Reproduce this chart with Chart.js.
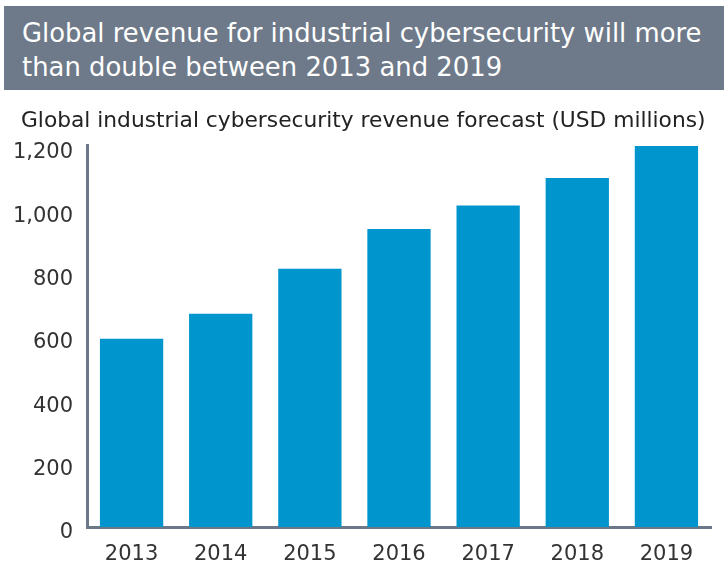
<!DOCTYPE html>
<html><head><meta charset="utf-8">
<script src="https://cdn.jsdelivr.net/npm/chart.js@4"></script>
<style>
html,body{margin:0;padding:0;background:#fff;}
#wrap{position:relative;width:728px;height:568px;overflow:hidden;}
#banner{position:absolute;left:4px;top:6px;width:720px;height:84px;background:#6e7a89;}
.t{position:absolute;left:22px;color:#fff;font-family:"DejaVu Sans",sans-serif;font-size:25px;white-space:nowrap;line-height:1;}
#sub{position:absolute;left:21px;top:109px;font-family:"DejaVu Sans",sans-serif;font-size:20px;color:#222;white-space:nowrap;line-height:1;}
canvas{position:absolute;left:0;top:0;}
</style></head><body>
<div id="wrap">
<canvas id="c" width="728" height="568"></canvas>
<div id="banner"></div>
<div class="t" id="t1" style="top:21px">Global revenue for industrial cybersecurity will more</div>
<div class="t" id="t2" style="top:55px">than double between 2013 and 2019</div>
<div id="sub">Global industrial cybersecurity revenue forecast (USD millions)</div>
</div>
<script>
const categories = ["2013","2014","2015","2016","2017","2018","2019"];
const revenue = [594, 673, 815, 941, 1015, 1102, 1203];
const yTicks = [0, 200, 400, 600, 800, 1000, 1200];

function fit(id, w){ const el=document.getElementById(id); const cur=el.getBoundingClientRect().width; const fs=parseFloat(getComputedStyle(el).fontSize); el.style.fontSize=(fs*w/cur)+'px'; }
fit('t1', 680);
document.getElementById('t2').style.fontSize = document.getElementById('t1').style.fontSize;
fit('sub', 685);

new Chart(document.getElementById('c'), {
  type: 'bar',
  data: { labels: categories, datasets: [{ data: revenue, backgroundColor: '#0095cc', barPercentage: 0.71, categoryPercentage: 1 }] },
  options: {
    responsive: false, animation: false,
    layout: { padding: { top: 145, right: 17, left: 0, bottom: 0 } },
    plugins: { legend: { display: false }, tooltip: { enabled: false } },
    scales: {
      x: {
        grid: { display: false },
        border: { display: true, color: '#6b7888', width: 3 },
        ticks: { color: '#333', font: { family: 'DejaVu Sans', size: 21 }, padding: 7 },
        afterFit: s => { s.height = 41; }
      },
      y: {
        min: 0, max: 1206,
        afterBuildTicks: s => { s.ticks = yTicks.map(v => ({ value: v })); },
        grid: { display: false },
        border: { display: true, color: '#6b7888', width: 3 },
        ticks: { color: '#333', font: { family: 'DejaVu Sans', size: 21 }, padding: 6, labelOffset: 6,
          callback: v => v.toLocaleString('en-US') },
        afterFit: s => { s.width = 87; }
      }
    }
  }
});
</script>
</body></html>
